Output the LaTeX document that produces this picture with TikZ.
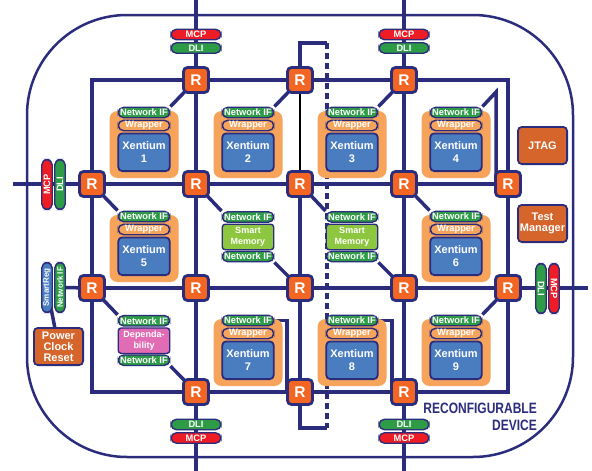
\documentclass[tikz,border=0pt]{standalone}
\usepackage{fontspec}
\setmainfont{Liberation Sans}
\newfontfamily\narrowfont[FakeStretch=0.8]{Liberation Sans}
\usetikzlibrary{backgrounds}
\definecolor{navy}{HTML}{2B2C7C}
\definecolor{rorange}{HTML}{F26522}
\definecolor{lorange}{HTML}{F6A35B}
\definecolor{cgreen}{HTML}{2E9B47}
\definecolor{xblue}{HTML}{4A7CC0}
\definecolor{cred}{HTML}{EE1C25}
\definecolor{lime}{HTML}{8DC63F}
\definecolor{pink}{HTML}{E26CB4}
\definecolor{dorange}{HTML}{D5652A}
\tikzset{
  base/.style={draw=navy, text=white, font=\bfseries\fontsize{9.3}{10}\selectfont, inner sep=0pt, align=center},
  pill/.style={base, line width=1.4pt, rounded corners=5.5pt, minimum width=51.5pt, minimum height=10.5pt},
  netif/.style={pill, fill=cgreen},
  wrap/.style={pill, fill=lorange},
  mcp/.style={pill, fill=cred, minimum width=50pt},
  dli/.style={pill, fill=cgreen, minimum width=50pt},
  vpill/.style={pill, minimum width=50pt, font=\bfseries\fontsize{8}{9}\selectfont},
  xbox/.style={base, line width=1.8pt, rounded corners=4pt, fill=xblue, minimum width=51.5pt, minimum height=37.7pt, font=\bfseries\fontsize{11}{13}\selectfont},
  midbox/.style={base, line width=1.4pt, rounded corners=3pt, minimum width=51.5pt, minimum height=25.5pt, font=\bfseries\fontsize{9}{11}\selectfont},
  bgbox/.style={fill=lorange, rounded corners=8pt, minimum width=69pt, minimum height=67pt, inner sep=0pt},
  router/.style={base, line width=2.8pt, rounded corners=4pt, fill=rorange, minimum size=25pt, font=\bfseries\fontsize{15.5}{15.5}\selectfont},
  side/.style={base, line width=1.8pt, rounded corners=4pt, fill=dorange, minimum width=49.2pt, minimum height=37.2pt, font=\bfseries\fontsize{11}{11}\selectfont},
  wire/.style={draw=navy, line width=3.5pt},
}
\newcommand{\XentBlock}[4]{%
  \node[bgbox] (#1bg) at (#2,144.5+#3) {};
  \node[netif] (#1n) at (#2,112.5+#3) {Network IF};
  \node[wrap] (#1w) at (#2,125.5+#3) {Wrapper};
  \node[xbox] (#1x) at (#2,152.25+#3) {Xentium\\#4};
}
\newcommand{\DualBlock}[5]{%
  \node[netif] (#1t) at (#2,#3) {Network IF};
  \node[midbox, fill=#4] (#1m) at (#2,#3+20) {#5};
  \node[netif] (#1b) at (#2,#3+39.5) {Network IF};
}
\begin{document}
\begin{tikzpicture}[x=1pt,y=-1pt]
\useasboundingbox (0,0) rectangle (592,471);
% routers
\node[router] (rA1) at (196,80) {R};
\node[router] (rA2) at (300,80) {R};
\node[router] (rA3) at (404,80) {R};
\node[router] (rB0) at (92,184) {R};
\node[router] (rB1) at (196,184) {R};
\node[router] (rB2) at (300,184) {R};
\node[router] (rB3) at (404,184) {R};
\node[router] (rB4) at (508,184) {R};
\node[router] (rC0) at (92,288) {R};
\node[router] (rC1) at (196,288) {R};
\node[router] (rC2) at (300,288) {R};
\node[router] (rC3) at (404,288) {R};
\node[router] (rC4) at (508,288) {R};
\node[router] (rD1) at (196,392) {R};
\node[router] (rD2) at (300,392) {R};
\node[router] (rD3) at (404,392) {R};
% blocks
\XentBlock{x1}{144}{0}{1}
\XentBlock{x2}{248}{0}{2}
\XentBlock{x3}{352}{0}{3}
\XentBlock{x4}{456}{0}{4}
\XentBlock{x5}{144}{104}{5}
\XentBlock{x6}{456}{104}{6}
\XentBlock{x7}{248}{208}{7}
\XentBlock{x8}{352}{208}{8}
\XentBlock{x9}{456}{208}{9}
\DualBlock{s1}{248}{217}{lime}{Smart\\Memory}
\DualBlock{s2}{352}{217}{lime}{Smart\\Memory}
\DualBlock{dp}{144}{320.7}{pink}{Dependa-\\bility}
% side boxes
\node[side] (jtag) at (542.5,145.5) {JTAG};
\node[side] (tm) at (542.5,223.5) {Test\\Manager};
\node[side] (pcr) at (58.5,346.5) {Power\\Clock\\Reset};
\node[vpill, fill=xblue, rotate=90] (sreg) at (47,287.5) {SmartReg};
\node[vpill, fill=cgreen, rotate=90] (snif) at (60,287.5) {Network IF};
% MCP / DLI
\node[mcp] (mt1) at (196,34.5) {MCP};
\node[dli] (dt1) at (196,48) {DLI};
\node[mcp] (mt3) at (404,34.5) {MCP};
\node[dli] (dt3) at (404,48) {DLI};
\node[dli] (db1) at (196,424.5) {DLI};
\node[mcp] (mb1) at (196,438) {MCP};
\node[dli] (db3) at (404,424.5) {DLI};
\node[mcp] (mb3) at (404,438) {MCP};
\node[mcp, rotate=90] (ml) at (47,184.5) {MCP};
\node[dli, rotate=90] (dl) at (60,184.5) {DLI};
\node[dli, rotate=-90] (dr) at (541,288.5) {DLI};
\node[mcp, rotate=-90] (mr) at (554,288.5) {MCP};
% label
\node[anchor=north east, align=right, text=navy, inner sep=0pt, font=\narrowfont\bfseries\fontsize{15}{17}\selectfont] (lbl) at (537,403) {RECONFIGURABLE\\DEVICE};
% coordinates
\coordinate (c1) at (92,80);
\coordinate (c2) at (508,80);
\coordinate (c3) at (92,392);
\coordinate (c4) at (508,392);
\coordinate (ls) at (13,184);
\coordinate (rs) at (588,288);
\coordinate (t1) at (196,0);
\coordinate (t3) at (404,0);
\coordinate (b1) at (196,471);
\coordinate (b3) at (404,471);
\coordinate (lp1) at (300,43);
\coordinate (lp2) at (327,43);
\coordinate (lp3) at (327,428);
\coordinate (lp4) at (300,428);
\coordinate (k4) at (496,92);
\coordinate (k7) at (287,321);
\coordinate (k8) at (392,321);
\begin{scope}[on background layer]
  \draw[navy, line width=2.5pt, rounded corners=100pt] (27,15) rectangle (573,457);
  \draw[wire] (rB0.center) -- (c1) -- (rA1.center) -- (rA2.center) -- (rA3.center) -- (c2) -- (rB4.center);
  \draw[wire] (rB0.center) -- (rB1.center) -- (rB2.center) -- (rB3.center) -- (rB4.center);
  \draw[wire] (rC0.center) -- (rC1.center) -- (rC2.center) -- (rC3.center) -- (rC4.center);
  \draw[wire] (rB0.center) -- (rC0.center) -- (c3) -- (rD1.center) -- (rD2.center) -- (rD3.center) -- (c4) -- (rC4.center) -- (rB4.center);
  \draw[wire] (rA1.center) -- (rB1.center) -- (rC1.center) -- (rD1.center);
  \draw[wire] (rA3.center) -- (rB3.center) -- (rC3.center) -- (rD3.center);
  \draw[wire] (rB2.center) -- (rC2.center) -- (rD2.center);
  \draw[black, line width=1.2pt] (rA2.center) -- (rB2.center);
  \draw[wire] (ls) -- (rB0.center);
  \draw[wire] (rC4.center) -- (rs);
  \draw[wire] (t1) -- (rA1.center);
  \draw[wire] (t3) -- (rA3.center);
  \draw[wire] (rD1.center) -- (b1);
  \draw[wire] (rD3.center) -- (b3);
  \draw[wire] (rA2.center) -- (lp1) -- (lp2);
  \draw[wire, dash pattern=on 6pt off 4pt] (lp2) -- (lp3);
  \draw[wire] (lp3) -- (lp4) -- (rD2.center);
  \draw[wire] (x1n.north east) -- (rA1.center);
  \draw[wire] (x2n.north east) -- (rA2.center);
  \draw[wire] (x3n.north east) -- (rA3.center);
  \draw[wire] (x4n.north east) -- (k4) -- (k4 |- rB4.center);
  \draw[wire] (x5n.north west) -- (rB0.center);
  \draw[wire] (s1t.north west) -- (rB1.center);
  \draw[wire] (s1b.south east) -- (rC2.center);
  \draw[wire] (s2t.north west) -- (rB2.center);
  \draw[wire] (s2b.south east) -- (rC3.center);
  \draw[wire] (x6n.north west) -- (rB3.center);
  \draw[wire] (dpt.north west) -- (rC0.center);
  \draw[wire] (dpb.south east) -- (rD1.center);
  \draw[wire] (x7n.east) -- (x7n.east -| k7) -- (k7 |- rD2.center);
  \draw[wire] (x8n.east) -- (x8n.east -| k8) -- (k8 |- rD3.center);
  \draw[wire] (x9n.north east) -- (rC4.center);
  \draw[wire] (snif.center) -- (rC0.center);
  \draw[wire] (sreg.center) -- (pcr.center);
\end{scope}
\end{tikzpicture}
\end{document}
